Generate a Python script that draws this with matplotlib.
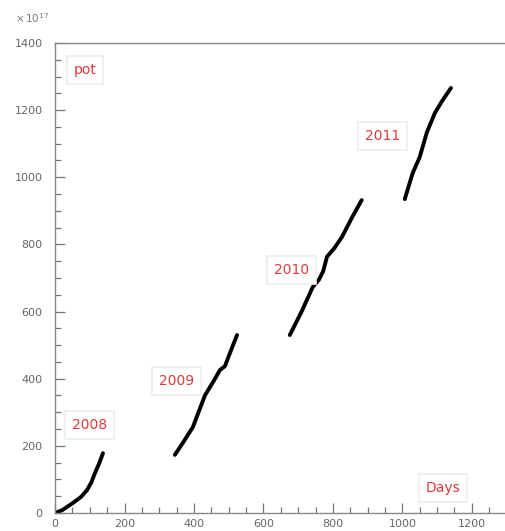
import matplotlib
matplotlib.use("Agg")
import matplotlib.pyplot as plt
from matplotlib.ticker import MultipleLocator

# Data (days, pot x 1e17)
d2008 = [0, 20, 52, 75, 92, 105, 115, 128, 138]
p2008 = [0, 8, 30, 48, 68, 92, 119, 150, 178]
d2009 = [345, 370, 397, 415, 432, 455, 475, 489, 505, 524]
p2009 = [173, 212, 256, 305, 351, 390, 426, 437, 480, 530]
d2010 = [676, 710, 742, 760, 772, 783, 805, 826, 855, 883]
p2010 = [530, 600, 673, 695, 720, 763, 790, 822, 880, 932]
d2011 = [1007, 1030, 1050, 1071, 1094, 1115, 1140]
p2011 = [935, 1013, 1060, 1135, 1192, 1228, 1266]
segments = [(d2008, p2008), (d2009, p2009), (d2010, p2010), (d2011, p2011)]

labels = ["pot", "2008", "2009", "2010", "2011", "Days"]
label_x = [86, 98, 351, 682, 944, 1117]
label_y = [1320, 263, 393, 724, 1123, 74]

fig = plt.figure(figsize=(5.05, 5.31), dpi=100)
ax = fig.add_axes([0.109, 0.034, 0.894, 0.885])

for d, p in segments:
    ax.plot(d, p, color="black", lw=2.8, solid_capstyle="round", solid_joinstyle="round")

ax.set_xlim(0, 1300)
ax.set_ylim(0, 1400)
ax.xaxis.set_major_locator(MultipleLocator(200))
ax.xaxis.set_minor_locator(MultipleLocator(50))
ax.yaxis.set_major_locator(MultipleLocator(200))
ax.yaxis.set_minor_locator(MultipleLocator(50))
ax.tick_params(which="both", direction="in", colors="#777777", labelcolor="#666666",
               labelsize=8, top=False, right=False)
ax.tick_params(axis="y", pad=9)
ax.tick_params(axis="x", pad=4)
ax.tick_params(which="major", length=7, width=0.9)
ax.tick_params(which="minor", length=4, width=0.9)
for s in ["left", "bottom", "top"]:
    ax.spines[s].set_color("#888888")
    ax.spines[s].set_linewidth(1.0)
ax.spines["right"].set_visible(False)

for t, x, y in zip(labels, label_x, label_y):
    ax.text(x, y, t, color="#e03a3a", fontsize=10, ha="center", va="center",
            bbox=dict(boxstyle="square,pad=0.5", facecolor="white", edgecolor="#e8eef0", lw=1.2))

fig.text(0.03, 0.965, r"$\times\,10^{17}$", color="#777777", fontsize=7.5, ha="left", va="center")

fig.savefig("out.png", dpi=100)
